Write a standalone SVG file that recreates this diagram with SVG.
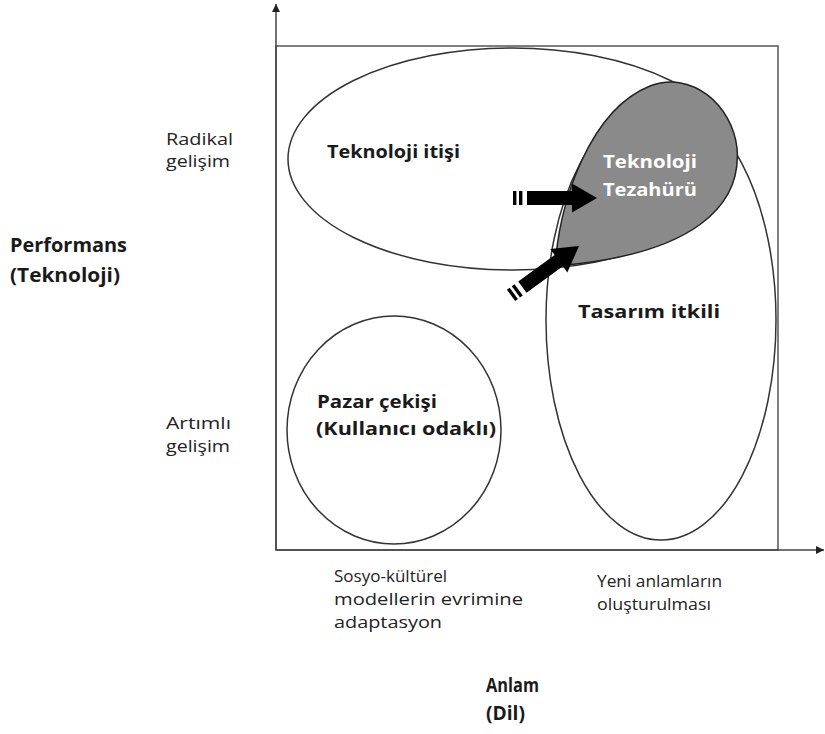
<svg xmlns="http://www.w3.org/2000/svg" xmlns:xlink="http://www.w3.org/1999/xlink" width="825" height="734" viewBox="0 0 825 734">
  <style>
    .frame { fill: none; stroke: #555; stroke-width: 1.5; }
    .axis { fill: none; stroke: #444; stroke-width: 1.5; }
    .zone { fill: none; stroke: #333; stroke-width: 1.5; }
    .peak { fill: #8a8a8a; stroke: #222; stroke-width: 1.5; }
    .lbl { font-family: "Open Sans", "DejaVu Sans", sans-serif; font-size: 16px; fill: #222; }
    .node { font-family: "Open Sans", "DejaVu Sans", sans-serif; font-size: 18px; font-weight: bold; fill: #1a1a1a; }
    .axisname { font-family: "Open Sans", "DejaVu Sans", sans-serif; font-size: 19px; font-weight: bold; fill: #1a1a1a; }
    .inv { fill: #ffffff; }
    .push { fill: #000; }
  </style>
  <defs>
    <marker id="axis-head" viewBox="0 0 10 10" refX="10" refY="5" markerWidth="8" markerHeight="8" markerUnits="userSpaceOnUse" orient="auto">
      <path d="M0,0 L10,5 L0,10 Z" fill="#222"/>
    </marker>
    <!-- thick block arrow with two tail stripes, tip at the origin -->
    <g id="block-arrow" class="push">
      <rect x="-84" y="-7" width="3.4" height="14"/>
      <rect x="-78" y="-7" width="3.4" height="14"/>
      <path d="M-70,-7 H-25 V-14.5 L0,0 L-25,14.5 V7 H-70 Z"/>
    </g>
  </defs>

  <!-- axes and frame -->
  <g id="axes">
    <rect class="frame" x="276" y="46" width="502" height="504"/>
    <line class="axis" x1="276" y1="550" x2="276" y2="4" marker-end="url(#axis-head)"/>
    <line class="axis" x1="276" y1="550" x2="824" y2="550" marker-end="url(#axis-head)"/>
  </g>

  <!-- regions -->
  <g id="tech-push">
    <ellipse class="zone" cx="512" cy="159" rx="224" ry="111"/>
    <text class="node" x="327" y="158" textLength="133" lengthAdjust="spacingAndGlyphs">Teknoloji itişi</text>
  </g>
  <g id="design-driven">
    <ellipse class="zone" cx="661" cy="320" rx="115" ry="220"/>
    <text class="node" x="578" y="318" textLength="142" lengthAdjust="spacingAndGlyphs">Tasarım itkili</text>
  </g>
  <g id="market-pull">
    <ellipse class="zone" cx="394" cy="430" rx="107" ry="114"/>
    <text class="node" x="317" y="408" textLength="120" lengthAdjust="spacingAndGlyphs">Pazar çekişi</text>
    <text class="node" x="316" y="435" textLength="180" lengthAdjust="spacingAndGlyphs">(Kullanıcı odaklı)</text>
  </g>
  <g id="tech-epiphany">
    <path class="peak" d="M555,266 C560,200 590,110 650,86 C692,70 732,105 737,148 C742,205 695,255 555,266 Z"/>
    <text class="node inv" x="603" y="168" textLength="94" lengthAdjust="spacingAndGlyphs">Teknoloji</text>
    <text class="node inv" x="603" y="196" textLength="94" lengthAdjust="spacingAndGlyphs">Tezahürü</text>
  </g>

  <!-- connectors -->
  <g id="connectors">
    <use xlink:href="#block-arrow" transform="translate(597,198)"/>
    <use xlink:href="#block-arrow" transform="translate(579,246) rotate(-36)"/>
  </g>

  <!-- axis labels -->
  <g id="y-axis-labels">
    <text class="axisname" x="10" y="252" textLength="117" lengthAdjust="spacingAndGlyphs">Performans</text>
    <text class="axisname" x="10" y="282" textLength="110" lengthAdjust="spacingAndGlyphs">(Teknoloji)</text>
    <text class="lbl" x="166" y="145" textLength="67" lengthAdjust="spacingAndGlyphs">Radikal</text>
    <text class="lbl" x="166" y="167" textLength="64" lengthAdjust="spacingAndGlyphs">gelişim</text>
    <text class="lbl" x="166" y="429" textLength="65" lengthAdjust="spacingAndGlyphs">Artımlı</text>
    <text class="lbl" x="166" y="452" textLength="64" lengthAdjust="spacingAndGlyphs">gelişim</text>
  </g>
  <g id="x-axis-labels">
    <text class="lbl" x="334" y="582" textLength="113" lengthAdjust="spacingAndGlyphs">Sosyo-kültürel</text>
    <text class="lbl" x="334" y="605" textLength="189" lengthAdjust="spacingAndGlyphs">modellerin evrimine</text>
    <text class="lbl" x="334" y="628" textLength="108" lengthAdjust="spacingAndGlyphs">adaptasyon</text>
    <text class="lbl" x="597" y="587" textLength="125" lengthAdjust="spacingAndGlyphs">Yeni anlamların</text>
    <text class="lbl" x="597" y="610" textLength="114" lengthAdjust="spacingAndGlyphs">oluşturulması</text>
    <text class="axisname" x="486" y="692" textLength="53" lengthAdjust="spacingAndGlyphs">Anlam</text>
    <text class="axisname" x="486" y="720" textLength="39" lengthAdjust="spacingAndGlyphs">(Dil)</text>
  </g>
</svg>
